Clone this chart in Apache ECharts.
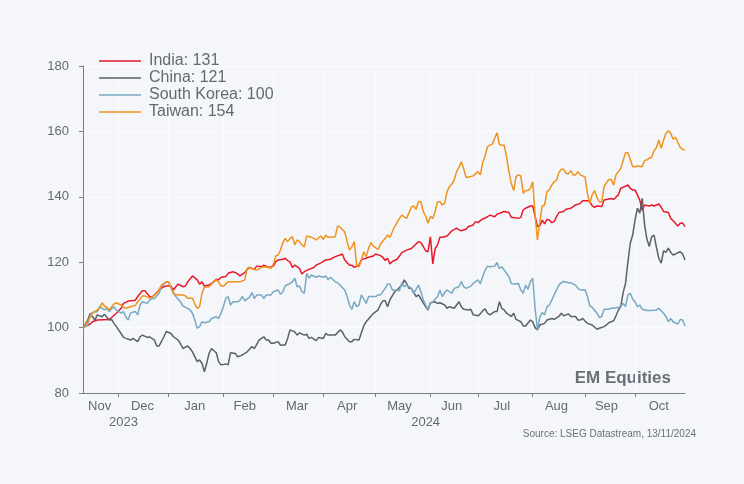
<!DOCTYPE html>
<html>
<head>
<meta charset="utf-8">
<script src="https://cdn.jsdelivr.net/npm/echarts@6/dist/echarts.min.js"></script>
<style>
html,body{margin:0;padding:0;background:#f4f6f9;}
#chart{width:744px;height:484px;}
</style>
</head>
<body>
<div id="chart"></div>
<script>
// ---- axis definitions (weekday index from 10 Nov 2023) ----
const startDate = '2023-11-10';
const dayCount = 254;
const monthLabels = ['Nov','Dec','Jan','Feb','Mar','Apr','May','Jun','Jul','Aug','Sep','Oct'];
const monthLabelDays = [7,25,47,68,90,111,133,155,176,199,220,242];
const monthStartDays = [15,36,59,80,101,123,146,166,189,211,232];
const yearLabels = ['2023','2024'];
const yearLabelDays = [17,144];
const yTicks = [80,100,120,140,160,180];

const seriesNames = ['India: 131','China: 121','South Korea: 100','Taiwan: 154'];

// ---- data: [weekday index, value] ----
const india = [[0,100],[3,101.1],[4,101.8],[6,102.3],[11,102.5],[12,103.1],[14,104.4],[16,105.9],[17,107.4],[19,108.1],[22,108.4],[23,109.5],[25,111.3],[26,111.3],[28,109.5],[29,109.3],[30,110.0],[32,111.5],[34,112.5],[35,112.7],[37,112.7],[38,111.5],[39,112.5],[40,113.3],[42,112.5],[43,112.7],[44,114.0],[46,115.8],[48,114.6],[49,113.3],[50,114.0],[51,112.7],[53,113.0],[54,113.5],[56,114.8],[57,114.6],[58,115.4],[60,115.6],[61,116.6],[63,117.1],[64,116.8],[65,116.4],[66,115.8],[68,116.8],[69,117.8],[70,118.4],[72,117.8],[73,118.8],[75,118.6],[76,119.1],[78,118.4],[80,118.8],[81,120.2],[82,120.7],[84,120.9],[85,121.2],[86,120.5],[87,120.1],[88,118.4],[89,119.1],[91,118.1],[92,116.4],[93,117.1],[95,117.8],[97,118.4],[98,119.1],[100,119.8],[102,120.7],[104,120.9],[106,121.7],[108,122.2],[109,122.5],[110,120.7],[112,119.1],[113,119.1],[114,118.4],[116,119.1],[117,120.7],[120,121.5],[122,121.9],[123,122.5],[125,122.0],[126,121.5],[127,120.5],[128,121.2],[129,119.5],[130,120.2],[132,120.9],[133,121.9],[134,122.9],[136,123.7],[138,124.2],[139,124.9],[141,126.3],[142,126.0],[143,124.8],[144,123.5],[145,123.2],[146,127.8],[147,119.5],[148,124.2],[149,125.3],[150,127.6],[151,127.6],[153,128.0],[154,128.8],[155,129.6],[157,130.4],[158,129.9],[159,129.6],[161,130.1],[162,130.9],[164,131.4],[165,132.4],[166,132.1],[167,132.7],[168,133.2],[169,133.5],[170,133.9],[171,134.4],[173,133.9],[174,134.7],[176,135.2],[177,135.5],[179,135.2],[180,133.7],[181,133.7],[183,133.4],[184,133.7],[185,136.0],[186,136.5],[188,137.2],[189,137.2],[190,134.0],[191,130.9],[192,131.1],[193,132.9],[194,131.7],[195,133.1],[196,132.9],[197,132.1],[198,132.4],[199,133.9],[200,135.2],[202,135.5],[203,136.2],[205,136.5],[206,137.0],[207,137.5],[209,138.0],[210,138.8],[212,138.8],[213,138.5],[214,137.2],[215,136.8],[216,137.2],[218,137.0],[219,139.0],[220,139.2],[222,139.5],[223,139.2],[225,140.6],[226,142.6],[227,142.9],[229,143.6],[230,142.6],[231,142.1],[232,142.1],[233,140.6],[234,139.0],[235,135.8],[236,137.5],[238,137.2],[239,137.5],[240,137.2],[242,137.8],[243,136.8],[244,135.5],[246,135.2],[247,133.4],[248,132.7],[250,131.1],[251,131.9],[252,132.0],[253,130.9]];

const china = [[0,100],[2,102.3],[3,104.4],[4,103.3],[5,102.3],[6,103.9],[8,103.3],[9,104.1],[11,102.3],[12,102.5],[13,101.3],[14,100.3],[16,98.2],[17,97.0],[18,96.7],[20,96.2],[21,96.7],[23,95.7],[24,97.2],[25,97.7],[27,97.0],[28,97.2],[30,96.2],[31,94.4],[32,94.4],[34,97.2],[35,98.8],[37,98.2],[38,97.2],[40,96.2],[41,95.0],[42,93.6],[44,94.4],[45,93.6],[46,92.6],[48,89.6],[49,90.1],[50,89.1],[51,86.5],[52,89.1],[53,92.1],[54,93.6],[56,92.3],[57,89.6],[58,88.6],[60,88.9],[61,88.6],[62,92.3],[64,92.1],[65,91.1],[66,91.3],[68,92.1],[69,92.6],[71,94.2],[72,93.6],[74,96.2],[75,96.7],[76,97.2],[77,96.2],[78,96.2],[79,95.2],[80,95.2],[82,95.7],[83,94.6],[84,94.7],[85,94.7],[86,96.7],[87,99.3],[89,98.7],[90,97.7],[91,98.4],[93,97.7],[94,98.0],[95,96.7],[96,97.0],[98,96.0],[99,97.0],[101,96.7],[102,98.2],[103,97.7],[105,97.7],[106,97.7],[108,99.3],[109,98.7],[110,97.2],[112,95.7],[113,95.7],[114,96.4],[116,96.2],[117,98.4],[118,100.5],[119,101.8],[121,103.5],[122,104.3],[124,105.4],[125,107.0],[126,108.2],[127,108.2],[128,106.4],[129,108.5],[131,111.0],[132,111.5],[134,113.0],[135,114.6],[136,113.5],[137,112.0],[138,112.0],[140,109.5],[141,110.0],[143,107.6],[144,106.4],[145,105.4],[146,107.6],[148,107.9],[149,107.4],[150,107.6],[152,106.9],[153,105.9],[154,106.4],[156,105.9],[158,107.9],[159,106.4],[160,105.6],[162,105.4],[163,105.6],[164,103.9],[166,103.6],[167,104.2],[168,105.2],[169,105.7],[170,104.4],[171,103.9],[173,104.9],[174,104.9],[175,107.9],[176,105.9],[177,105.4],[178,104.4],[180,103.4],[181,104.4],[182,102.5],[184,101.8],[185,100.5],[186,100.5],[188,102.3],[189,101.8],[190,100.0],[191,99.3],[192,100.8],[194,101.3],[195,102.3],[197,102.8],[198,102.5],[200,103.4],[201,104.4],[202,103.6],[204,104.2],[205,103.4],[207,103.4],[208,102.3],[209,102.3],[210,102.8],[211,102.0],[212,101.3],[214,100.8],[216,99.5],[217,99.8],[219,100.3],[220,100.8],[221,101.5],[223,102.1],[224,103.6],[225,105.4],[226,106.4],[227,110.7],[228,113.5],[229,120.0],[230,125.8],[231,128.3],[232,132.9],[233,136.5],[234,135.0],[235,139.5],[236,131.5],[237,127.0],[238,124.8],[239,127.8],[240,128.3],[241,124.5],[242,121.2],[243,119.7],[244,123.5],[245,123.0],[246,124.3],[247,123.0],[248,122.2],[249,122.5],[250,122.9],[251,123.2],[252,122.5],[253,120.7]];

const southKorea = [[0,99.8],[2,100.8],[3,103.9],[4,104.6],[6,104.9],[7,106.4],[9,105.4],[10,105.9],[11,104.9],[13,106.4],[14,105.4],[16,104.4],[17,104.9],[18,103.3],[19,102.3],[20,104.5],[22,104.9],[23,103.9],[24,106.9],[25,107.9],[27,107.4],[28,108.4],[29,108.9],[30,108.9],[32,110.5],[33,112.5],[35,114.0],[36,113.7],[37,112.0],[39,109.5],[41,107.9],[42,106.6],[44,105.9],[45,105.4],[46,104.4],[47,102.3],[48,99.8],[49,100.3],[50,101.8],[51,101.5],[53,101.8],[54,102.8],[56,103.3],[57,102.8],[58,104.4],[59,106.4],[60,108.9],[61,109.5],[62,106.9],[63,107.9],[65,107.9],[66,108.4],[67,109.5],[68,108.2],[70,109.3],[71,110.7],[72,108.9],[73,110.0],[75,110.0],[76,108.9],[77,110.0],[79,110.0],[80,111.0],[82,111.5],[83,110.2],[84,111.0],[85,112.8],[87,113.5],[88,114.0],[89,115.1],[90,112.5],[91,112.7],[92,111.0],[93,110.5],[94,116.6],[95,115.1],[96,116.1],[98,115.4],[99,115.8],[101,115.4],[102,115.8],[103,114.6],[104,115.4],[106,114.0],[107,113.7],[108,113.0],[110,111.5],[111,109.5],[112,106.9],[113,105.6],[114,107.9],[115,106.4],[116,106.9],[117,110.0],[119,107.4],[120,109.5],[121,109.5],[123,109.5],[124,110.0],[125,110.0],[127,112.0],[128,113.3],[129,113.3],[130,111.5],[131,111.5],[133,111.3],[134,113.7],[135,112.5],[136,113.0],[138,112.0],[139,110.5],[141,113.0],[142,111.0],[143,108.5],[144,106.9],[145,105.6],[146,107.4],[147,107.9],[149,109.5],[150,111.5],[151,109.5],[152,110.7],[153,111.5],[155,110.5],[156,112.0],[158,112.5],[159,114.1],[160,112.5],[161,112.0],[163,112.7],[164,113.5],[166,114.6],[167,113.4],[168,115.6],[169,117.6],[170,118.8],[171,118.6],[173,118.8],[174,119.9],[175,118.1],[176,118.6],[177,117.6],[179,115.6],[180,113.5],[181,113.3],[183,113.5],[184,111.5],[185,110.5],[186,113.0],[187,111.7],[188,114.1],[189,115.1],[190,106.0],[191,99.3],[192,103.3],[193,104.6],[194,103.9],[195,106.4],[196,106.9],[197,108.4],[198,110.0],[199,111.5],[200,113.0],[201,113.7],[202,114.1],[204,113.7],[205,113.7],[207,113.0],[208,112.0],[209,111.5],[211,111.6],[212,109.5],[213,106.6],[214,106.2],[216,104.4],[217,103.1],[218,103.4],[219,105.6],[221,105.6],[222,105.9],[223,105.9],[225,106.2],[226,106.4],[227,107.4],[228,106.4],[229,110.0],[230,110.5],[231,108.7],[232,107.9],[233,106.4],[234,106.9],[235,105.6],[237,105.2],[239,105.2],[241,105.4],[242,105.9],[244,104.4],[245,103.4],[246,101.8],[247,102.8],[248,101.8],[250,101.1],[251,102.5],[252,102.3],[253,100.5]];

const taiwan = [[0,100],[2,101.8],[4,104.4],[5,104.9],[7,105.9],[8,107.6],[9,106.6],[10,106.2],[11,105.4],[13,107.2],[14,107.6],[16,106.9],[17,106.2],[18,105.9],[21,106.6],[22,106.8],[23,107.9],[25,109.7],[26,109.7],[28,109.0],[29,109.3],[31,110.5],[33,113.0],[35,114.0],[36,114.0],[37,112.5],[38,110.3],[40,110.0],[42,110.0],[43,109.7],[44,109.0],[46,109.0],[47,107.2],[48,105.9],[49,106.4],[50,110.5],[51,112.3],[53,112.5],[54,113.3],[56,114.6],[57,114.0],[58,112.7],[59,112.7],[61,114.0],[63,114.0],[66,114.0],[68,114.6],[69,118.1],[70,118.4],[72,117.8],[73,117.6],[75,118.4],[76,118.6],[78,118.4],[79,118.1],[80,119.4],[81,121.9],[82,122.2],[83,123.7],[84,126.0],[85,127.3],[86,126.3],[87,127.3],[88,127.8],[89,125.3],[90,126.8],[91,126.3],[92,125.3],[93,124.7],[94,128.0],[96,127.6],[97,127.3],[98,126.8],[100,128.0],[101,127.0],[102,128.3],[103,127.6],[104,127.6],[106,127.8],[107,131.1],[108,130.7],[110,129.3],[111,126.3],[112,123.7],[113,124.7],[114,126.3],[115,119.1],[116,118.6],[117,120.7],[118,123.2],[119,121.7],[120,124.2],[121,126.0],[122,124.9],[124,123.9],[125,125.5],[127,127.3],[128,128.3],[129,127.6],[130,129.3],[131,130.9],[133,133.4],[134,134.4],[135,133.9],[136,133.4],[138,136.8],[139,137.2],[140,136.2],[141,138.5],[142,138.5],[143,135.5],[144,134.1],[145,131.9],[146,134.0],[147,133.4],[148,135.5],[149,138.5],[150,138.5],[151,137.5],[152,138.0],[153,141.6],[154,143.1],[155,143.9],[156,145.1],[157,147.7],[158,149.0],[159,150.7],[160,148.5],[161,145.9],[163,146.2],[164,146.4],[166,147.7],[167,146.7],[168,150.5],[169,152.5],[170,155.3],[171,155.8],[172,156.1],[174,159.6],[175,156.0],[176,155.8],[177,155.8],[178,152.3],[179,147.7],[180,144.1],[181,141.9],[182,146.2],[183,146.7],[184,146.4],[185,141.1],[186,141.9],[187,141.9],[188,142.6],[189,144.6],[190,134.5],[191,126.8],[192,132.4],[193,137.2],[194,137.5],[195,141.6],[196,142.1],[197,143.6],[198,144.6],[199,145.1],[200,147.4],[201,148.4],[202,148.4],[203,147.2],[204,147.0],[205,148.0],[206,146.7],[207,146.7],[208,147.7],[209,146.7],[210,146.4],[211,146.0],[212,141.0],[213,138.0],[214,140.6],[215,141.9],[216,139.8],[217,138.5],[218,138.5],[219,143.1],[220,144.3],[221,145.3],[222,145.3],[223,143.6],[224,146.7],[225,147.7],[226,148.7],[227,151.1],[228,153.5],[229,153.5],[230,151.5],[231,149.2],[232,149.2],[233,149.4],[235,149.2],[236,151.1],[237,151.3],[238,151.8],[239,152.1],[240,154.1],[241,155.1],[242,157.4],[243,154.8],[244,157.4],[245,159.4],[246,160.2],[247,159.4],[248,157.6],[249,158.2],[250,156.6],[251,155.1],[252,154.5],[253,154.4]];

// ---- build weekday category axis ----
const dates = [];
(function(){
  const d = new Date(startDate + 'T00:00:00Z');
  while (dates.length < dayCount) {
    const w = d.getUTCDay();
    if (w !== 0 && w !== 6) dates.push(d.toISOString().slice(0,10));
    d.setUTCDate(d.getUTCDate() + 1);
  }
})();
const monthMap = new Map();
monthLabelDays.forEach((d,i)=>monthMap.set(d, monthLabels[i]));
const yearMap = new Map();
yearLabelDays.forEach((d,i)=>yearMap.set(d, yearLabels[i]));
const tickSet = new Set(monthStartDays);

const FONT = '"Liberation Sans", Arial, Helvetica, sans-serif';
const colors = ['#e8192c','#5b6168','#78a8c2','#f0921e'];
const axisColor = '#7a7f86';
const textColor = '#646a72';

const chart = echarts.init(document.getElementById('chart'), null, {renderer:'canvas'});
const seriesData = [india, china, southKorea, taiwan];

chart.setOption({
  backgroundColor: '#f4f6f9',
  animation: false,
  color: colors,
  textStyle: {fontFamily: FONT},
  grid: {left: 83, right: 59, top: 66, bottom: 91, containLabel: false},
  legend: {
    orient: 'vertical',
    left: 99, top: 53, padding: 0,
    itemWidth: 42, itemHeight: 14, itemGap: 1,
    textStyle: {fontFamily: FONT, fontSize: 16, color: textColor, padding: [0,0,0,3]},
    data: seriesNames.map((n)=>({name:n, icon:'path://M0,6.2H42V7.8H0Z'}))
  },
  xAxis: [{
    type: 'category',
    data: dates,
    boundaryGap: false,
    axisLine: {show: true, lineStyle: {color: axisColor, width: 1}},
    axisTick: {show: true, length: 4, interval: (i)=>tickSet.has(i), lineStyle: {color: axisColor}},
    axisLabel: {
      interval: (i)=>monthMap.has(i),
      formatter: (v,i)=>monthMap.get(i) || '',
      hideOverlap: false,
      color: textColor, fontSize: 13, margin: 7, fontFamily: FONT
    },
    splitLine: {show: true, interval: (i)=>tickSet.has(i), lineStyle: {color: '#fbfcfd', width: 1}}
  }, {
    type: 'category',
    data: dates,
    position: 'bottom',
    offset: 16,
    boundaryGap: false,
    axisLine: {show: false},
    axisTick: {show: false},
    splitLine: {show: false},
    axisLabel: {
      interval: (i)=>yearMap.has(i),
      formatter: (v,i)=>yearMap.get(i) || '',
      hideOverlap: false,
      color: textColor, fontSize: 13, margin: 7, fontFamily: FONT
    }
  }],
  yAxis: {
    type: 'value',
    min: yTicks[0], max: yTicks[yTicks.length-1], interval: 20,
    axisLine: {show: true, lineStyle: {color: axisColor, width: 1}},
    axisTick: {show: true, length: 4, lineStyle: {color: axisColor}},
    axisLabel: {color: textColor, fontSize: 13, margin: 14, fontFamily: FONT},
    splitLine: {show: true, lineStyle: {color: '#fbfcfd', width: 1}}
  },
  series: seriesNames.map((n,i)=>({
    name: n,
    type: 'line',
    xAxisIndex: 0,
    data: seriesData[i],
    symbol: 'none',
    smooth: false,
    lineStyle: {width: 1.5, color: colors[i]},
    itemStyle: {color: colors[i]},
    z: 2
  })),
  graphic: [
    {type:'text', right: 73, top: 370, style:{text:'EM Equities', font:'bold 17px ' + FONT, fill:'#6b7078'}},
    {type:'text', right: 48, top: 429, style:{text:'Source: LSEG Datastream, 13/11/2024', font:'10px ' + FONT, fill:'#6b7078'}}
  ]
});
</script>
</body>
</html>
